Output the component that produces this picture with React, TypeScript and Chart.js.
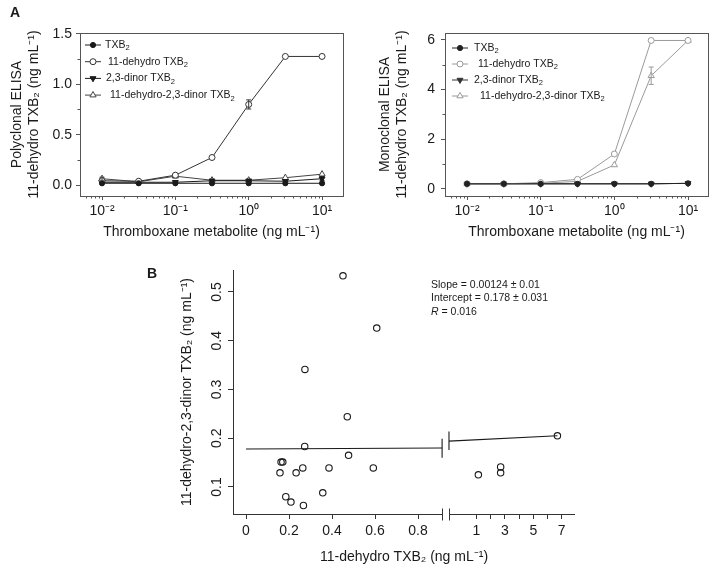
import React, { useEffect, useRef } from 'react';
import { Chart, registerables } from 'chart.js';

Chart.register(...registerables);

const FONT = "'Liberation Sans', Arial, Helvetica, sans-serif";
const INK = '#1a1a1a';

// ---------------- Panel A data ----------------
const concentrations = [0.01, 0.0316, 0.1, 0.316, 1, 3.16, 10];
const seriesNames = ['TXB₂', '11-dehydro TXB₂', '2,3-dinor TXB₂', '11-dehydro-2,3-dinor TXB₂'];

const polyTXB2 = [0.02, 0.02, 0.02, 0.02, 0.02, 0.02, 0.02];
const polyDehydro = [0.045, 0.04, 0.1, 0.275, 0.8, 1.275, 1.275];
const polyDinor = [0.03, 0.03, 0.03, 0.045, 0.045, 0.04, 0.065];
const polyDehydroDinor = [0.065, 0.035, 0.09, 0.05, 0.05, 0.075, 0.11];
const polyTXB2Err = [0, 0, 0, 0, 0, 0, 0];
const polyDehydroErr = [0, 0, 0, 0, 0.045, 0, 0];
const polyDinorErr = [0, 0, 0, 0, 0, 0, 0.02];
const polyDehydroDinorErr = [0.015, 0, 0, 0, 0, 0, 0];

const monoTXB2 = [0.2, 0.2, 0.2, 0.2, 0.2, 0.2, 0.22];
const monoDehydro = [0.2, 0.2, 0.25, 0.38, 1.4, 5.97, 5.97];
const monoDinor = [0.2, 0.2, 0.2, 0.2, 0.2, 0.2, 0.22];
const monoDehydroDinor = [0.2, 0.2, 0.22, 0.3, 0.96, 4.55, 5.97];
const monoTXB2Err = [0, 0, 0, 0, 0, 0, 0];
const monoDehydroErr = [0, 0, 0, 0, 0, 0, 0];
const monoDinorErr = [0, 0, 0, 0, 0, 0, 0];
const monoDehydroDinorErr = [0, 0, 0, 0, 0, 0.35, 0];

const logTicks = [0.01, 0.1, 1, 10];
const logTickLabels = ['10⁻²', '10⁻¹', '10⁰', '10¹'];
const polyYTicks = [0, 0.5, 1, 1.5];
const polyYTickLabels = ['0.0', '0.5', '1.0', '1.5'];
const polyYMinor = [0.25, 0.75, 1.25];
const monoYTicks = [0, 2, 4, 6];
const monoYTickLabels = ['0', '2', '4', '6'];
const monoYMinor = [1, 3, 5];

// ---------------- Panel B data ----------------
const bLeftX = [0.158, 0.163, 0.171, 0.185, 0.209, 0.233, 0.264, 0.267, 0.274, 0.273, 0.357, 0.386, 0.471, 0.477, 0.592, 0.608, 0.451];
const bLeftY = [0.129, 0.151, 0.151, 0.080, 0.069, 0.129, 0.139, 0.062, 0.341, 0.183, 0.088, 0.139, 0.244, 0.165, 0.139, 0.426, 0.533];
const bRightX = [1.13, 2.7, 2.7, 6.7];
const bRightY = [0.125, 0.141, 0.129, 0.205];
const bFitLeftX = [0, 0.912];
const bFitLeftY = [0.178, 0.18];
const bFitRightX = [-0.94, 6.7];
const bFitRightY = [0.194, 0.205];
const bCapLeftY = [0.16, 0.199];
const bCapRightY = [0.176, 0.214];
const bXTicksLeft = [0, 0.2, 0.4, 0.6, 0.8];
const bXTickLabelsLeft = ['0', '0.2', '0.4', '0.6', '0.8'];
const bXTicksRight = [1, 2, 3, 4, 5, 6, 7];
const bXTickLabelsRight = ['1', '', '3', '', '5', '', '7'];
const bYTicks = [0.1, 0.2, 0.3, 0.4, 0.5];
const bYTickLabels = ['0.1', '0.2', '0.3', '0.4', '0.5'];
const bStats = ['Slope = 0.00124 ± 0.01', 'Intercept = 0.178 ± 0.031', 'R = 0.016'];

// broken x axis geometry (display units)
const LEFT_MIN = -0.0605;
const LEFT_MAX = 0.912;
const GAP = 0.032;
const RIGHT_MIN = -0.94;
const RIGHT_MAX = 7.94;
const RIGHT_SCALE = 0.066;
const mapR = (w: number) => LEFT_MAX + GAP + (w - RIGHT_MIN) * RIGHT_SCALE;

// ---------------- helpers ----------------
const MARKERS = [
  { style: 'circle', r: 2.6, rot: 0, filled: true },
  { style: 'circle', r: 3, rot: 0, filled: false },
  { style: 'triangle', r: 3.4, rot: 180, filled: true },
  { style: 'triangle', r: 3.6, rot: 0, filled: false },
];

function drawMarker(ctx: CanvasRenderingContext2D, m: any, x: number, y: number, color: string) {
  ctx.save();
  ctx.beginPath();
  if (m.style === 'circle') {
    ctx.arc(x, y, m.r, 0, Math.PI * 2);
  } else {
    let rad = (m.rot * Math.PI) / 180;
    for (let k = 0; k < 3; k++) {
      const px = x + Math.sin(rad) * m.r;
      const py = y - Math.cos(rad) * m.r;
      if (k === 0) ctx.moveTo(px, py);
      else ctx.lineTo(px, py);
      rad += (2 * Math.PI) / 3;
    }
    ctx.closePath();
  }
  ctx.fillStyle = m.filled ? color : '#fff';
  ctx.fill();
  ctx.strokeStyle = color;
  ctx.lineWidth = 1;
  ctx.stroke();
  ctx.restore();
}

function fillRich(ctx: CanvasRenderingContext2D, text: string, x: number, y: number, size: number, color: string) {
  ctx.save();
  ctx.fillStyle = color;
  ctx.textAlign = 'left';
  ctx.textBaseline = 'middle';
  let cx = x;
  for (const part of text.split(/(₂)/)) {
    if (!part) continue;
    if (part === '₂') {
      ctx.font = `${size * 0.72}px ${FONT}`;
      ctx.fillText('2', cx, y + size * 0.32);
      cx += ctx.measureText('2').width;
    } else {
      ctx.font = `${size}px ${FONT}`;
      ctx.fillText(part, cx, y);
      cx += ctx.measureText(part).width;
    }
  }
  ctx.restore();
}

function line(ctx: CanvasRenderingContext2D, x0: number, y0: number, x1: number, y1: number) {
  ctx.beginPath();
  ctx.moveTo(x0, y0);
  ctx.lineTo(x1, y1);
  ctx.stroke();
}

function logMinor(min: number, max: number) {
  const out: number[] = [];
  for (let k = Math.floor(Math.log10(min)); k <= Math.floor(Math.log10(max)); k++) {
    for (let m = 2; m <= 9; m++) {
      const v = m * Math.pow(10, k);
      if (v >= min && v <= max) out.push(v);
    }
  }
  return out;
}

// ---------------- Panel A config ----------------
function doseConfig(o: any) {
  const datasets = o.series.map((vals: number[], i: number) => {
    const m = MARKERS[i];
    const color = o.colors[i];
    return {
      label: seriesNames[i],
      data: concentrations.map((x, j) => ({ x, y: vals[j] })),
      errorBars: o.errors[i],
      showLine: true,
      borderColor: color,
      borderWidth: 1,
      pointStyle: m.style,
      pointRadius: m.r,
      pointHoverRadius: m.r,
      pointRotation: m.rot,
      pointBorderColor: color,
      pointBackgroundColor: m.filled ? color : '#fff',
      pointBorderWidth: 1,
    };
  });
  const axisColor = '#555';
  const decor = {
    id: 'doseDecor',
    afterDatasetsDraw(chart: any) {
      const ctx = chart.ctx;
      const xs = chart.scales.x;
      const ys = chart.scales.y;
      chart.data.datasets.forEach((ds: any) => {
        ctx.save();
        ctx.strokeStyle = ds.borderColor;
        ctx.lineWidth = 1;
        ds.data.forEach((p: any, j: number) => {
          const e = ds.errorBars[j];
          if (!e) return;
          const px = xs.getPixelForValue(p.x);
          const y0 = ys.getPixelForValue(p.y - e);
          const y1 = ys.getPixelForValue(p.y + e);
          line(ctx, px, y0, px, y1);
          line(ctx, px - 2.5, y0, px + 2.5, y0);
          line(ctx, px - 2.5, y1, px + 2.5, y1);
        });
        ctx.restore();
      });
    },
    afterDraw(chart: any) {
      const ctx = chart.ctx;
      const a = chart.chartArea;
      const xs = chart.scales.x;
      const ys = chart.scales.y;
      ctx.save();
      ctx.strokeStyle = axisColor;
      ctx.lineWidth = 1;
      ctx.strokeRect(Math.round(a.left) + 0.5, Math.round(a.top) + 0.5, Math.round(a.right - a.left), Math.round(a.bottom - a.top));
      // minor ticks
      logMinor(o.xMin, o.xMax).forEach((v) => {
        const px = Math.round(xs.getPixelForValue(v)) + 0.5;
        line(ctx, px, a.bottom, px, a.bottom + 2.5);
      });
      o.yMinor.forEach((v: number) => {
        const py = Math.round(ys.getPixelForValue(v)) + 0.5;
        line(ctx, a.left - 2.5, py, a.left, py);
      });
      // legend
      const L = o.legend;
      seriesNames.forEach((name, i) => {
        const y = a.top + L.rowY0 + i * L.rowDy;
        ctx.strokeStyle = o.colors[i];
        ctx.lineWidth = 1;
        line(ctx, a.left + L.lineX0, y, a.left + L.lineX1, y);
        drawMarker(ctx, MARKERS[i], a.left + (L.lineX0 + L.lineX1) / 2, y, o.colors[i]);
        fillRich(ctx, name, a.left + L.textX + L.indent[i], y, 10.5, INK);
      });
      if (o.panelLabel) {
        ctx.fillStyle = INK;
        ctx.font = `bold 14px ${FONT}`;
        ctx.textAlign = 'center';
        ctx.textBaseline = 'middle';
        ctx.fillText(o.panelLabel, 15, 13);
      }
      ctx.restore();
    },
  };
  return {
    type: 'scatter',
    data: { datasets },
    options: {
      animation: false,
      responsive: false,
      events: [],
      layout: { padding: { top: o.padTop, right: o.padRight, left: 0, bottom: 0 } },
      plugins: { legend: { display: false }, tooltip: { enabled: false } },
      scales: {
        x: {
          type: 'logarithmic',
          min: o.xMin,
          max: o.xMax,
          afterBuildTicks: (s: any) => {
            s.ticks = logTicks.map((v) => ({ value: v }));
          },
          afterFit: (s: any) => {
            s.height = 54;
          },
          ticks: {
            callback: (_v: any, i: number) => logTickLabels[i],
            font: { family: FONT, size: 14 },
            color: INK,
            padding: 3,
            autoSkip: false,
            maxRotation: 0,
          },
          grid: { drawOnChartArea: false, tickLength: 4, color: axisColor, tickColor: axisColor },
          border: { display: true, color: axisColor },
          title: {
            display: true,
            text: 'Thromboxane metabolite (ng mL⁻¹)',
            font: { family: FONT, size: 14 },
            color: INK,
            padding: { top: 0, bottom: 9.6 },
          },
        },
        y: {
          type: 'linear',
          min: o.yMin,
          max: o.yMax,
          afterBuildTicks: (s: any) => {
            s.ticks = o.yTicks.map((v: number) => ({ value: v }));
          },
          afterFit: (s: any) => {
            s.width = o.yAxisWidth;
          },
          ticks: {
            callback: (_v: any, i: number) => o.yTickLabels[i],
            font: { family: FONT, size: 14 },
            color: INK,
            padding: o.yTickPad,
            autoSkip: false,
          },
          grid: { drawOnChartArea: false, tickLength: 4, color: axisColor, tickColor: axisColor },
          border: { display: true, color: axisColor },
          title: {
            display: true,
            text: o.yTitle,
            font: { family: FONT, size: 14 },
            color: INK,
            padding: { top: o.yTitlePad, bottom: 0 },
          },
        },
      },
    },
    plugins: [decor],
  };
}

// ---------------- Panel B config ----------------
function scatterConfig() {
  const axisColor = '#333';
  const leftPts = bLeftX.map((x, i) => ({ x, y: bLeftY[i] }));
  const rightPts = bRightX.map((x, i) => ({ x: mapR(x), y: bRightY[i] }));
  const fitL = bFitLeftX.map((x, i) => ({ x, y: bFitLeftY[i] }));
  const fitR = bFitRightX.map((x, i) => ({ x: mapR(x), y: bFitRightY[i] }));
  const tickVals = [...bXTicksLeft, ...bXTicksRight.map(mapR)];
  const tickLabels = [...bXTickLabelsLeft, ...bXTickLabelsRight];
  const pointStyle = {
    pointStyle: 'circle',
    pointRadius: 3.2,
    pointHoverRadius: 3.2,
    pointBorderColor: INK,
    pointBackgroundColor: 'rgba(255,255,255,0)',
    pointBorderWidth: 1.1,
    showLine: false,
  };
  const fitStyle = { showLine: true, borderColor: INK, borderWidth: 1.1, pointRadius: 0, pointHoverRadius: 0 };
  const decor = {
    id: 'bDecor',
    afterDatasetsDraw(chart: any) {
      const ctx = chart.ctx;
      const xs = chart.scales.x;
      const ys = chart.scales.y;
      ctx.save();
      ctx.strokeStyle = INK;
      ctx.lineWidth = 1.1;
      const xl = xs.getPixelForValue(LEFT_MAX);
      const xr = xs.getPixelForValue(mapR(RIGHT_MIN));
      line(ctx, xl, ys.getPixelForValue(bCapLeftY[0]), xl, ys.getPixelForValue(bCapLeftY[1]));
      line(ctx, xr, ys.getPixelForValue(bCapRightY[0]), xr, ys.getPixelForValue(bCapRightY[1]));
      ctx.restore();
    },
    afterDraw(chart: any) {
      const ctx = chart.ctx;
      const a = chart.chartArea;
      const xs = chart.scales.x;
      const ys = chart.scales.y;
      ctx.save();
      ctx.strokeStyle = axisColor;
      ctx.lineWidth = 1;
      const y = Math.round(a.bottom) + 0.5;
      const xl = Math.round(xs.getPixelForValue(LEFT_MAX)) + 0.5;
      const xr = Math.round(xs.getPixelForValue(mapR(RIGHT_MIN))) + 0.5;
      line(ctx, a.left, y, xl, y);
      line(ctx, xr, y, a.right, y);
      line(ctx, xl, y - 6, xl, y + 6);
      line(ctx, xr, y - 6, xr, y + 6);
      // rotated y tick labels
      ctx.fillStyle = INK;
      ctx.font = `14px ${FONT}`;
      ctx.textAlign = 'center';
      ctx.textBaseline = 'middle';
      bYTicks.forEach((v, i) => {
        ctx.save();
        ctx.translate(a.left - 16, ys.getPixelForValue(v));
        ctx.rotate(-Math.PI / 2);
        ctx.fillText(bYTickLabels[i], 0, 0);
        ctx.restore();
      });
      // stats
      ctx.textAlign = 'left';
      bStats.forEach((s, i) => {
        const sx = a.left + 198;
        const sy = a.top + 15 + i * 13.5;
        if (s.startsWith('R ')) {
          ctx.font = `italic 10.5px ${FONT}`;
          ctx.fillText('R', sx, sy);
          const w = ctx.measureText('R').width;
          ctx.font = `10.5px ${FONT}`;
          ctx.fillText(s.slice(1), sx + w, sy);
        } else {
          ctx.font = `10.5px ${FONT}`;
          ctx.fillText(s, sx, sy);
        }
      });
      // panel label
      ctx.font = `bold 14px ${FONT}`;
      ctx.textAlign = 'center';
      ctx.fillText('B', 12, 19);
      ctx.restore();
    },
  };
  return {
    type: 'scatter',
    data: {
      datasets: [
        { label: 'samples', data: leftPts, ...pointStyle },
        { label: 'samples (high)', data: rightPts, ...pointStyle },
        { label: 'fit', data: fitL, ...fitStyle },
        { label: 'fit (high)', data: fitR, ...fitStyle },
      ],
    },
    options: {
      animation: false,
      responsive: false,
      events: [],
      layout: { padding: { top: 15, right: 25, left: 0, bottom: 0 } },
      plugins: { legend: { display: false }, tooltip: { enabled: false } },
      scales: {
        x: {
          type: 'linear',
          min: LEFT_MIN,
          max: mapR(RIGHT_MAX),
          afterBuildTicks: (s: any) => {
            s.ticks = tickVals.map((v) => ({ value: v }));
          },
          afterFit: (s: any) => {
            s.height = 57;
          },
          ticks: {
            callback: (_v: any, i: number) => tickLabels[i],
            font: { family: FONT, size: 14 },
            color: INK,
            padding: 3.6,
            autoSkip: false,
            maxRotation: 0,
          },
          grid: { drawOnChartArea: false, tickLength: 5, color: axisColor, tickColor: axisColor },
          border: { display: false },
          title: {
            display: true,
            text: '11-dehydro TXB₂ (ng mL⁻¹)',
            font: { family: FONT, size: 14 },
            color: INK,
            padding: { top: 0, bottom: 5.6 },
          },
        },
        y: {
          type: 'linear',
          min: 0.0446,
          max: 0.545,
          afterBuildTicks: (s: any) => {
            s.ticks = bYTicks.map((v) => ({ value: v }));
          },
          afterFit: (s: any) => {
            s.width = 93;
          },
          ticks: { display: false, autoSkip: false },
          grid: { drawOnChartArea: false, tickLength: 5, color: axisColor, tickColor: axisColor },
          border: { display: true, color: axisColor },
          title: {
            display: true,
            text: '11-dehydro-2,3-dinor TXB₂ (ng mL⁻¹)',
            font: { family: FONT, size: 14 },
            color: INK,
            padding: { top: 38.6, bottom: 0 },
          },
        },
      },
    },
    plugins: [decor],
  };
}

function ChartBox({ left, top, width, height, make }: any) {
  const ref = useRef<HTMLCanvasElement>(null);
  useEffect(() => {
    const chart = new Chart(ref.current as HTMLCanvasElement, make());
    return () => chart.destroy();
  }, []);
  return (
    <canvas
      ref={ref}
      width={width}
      height={height}
      style={{ position: 'absolute', left, top, width, height }}
    />
  );
}

export default function App() {
  const polyConfig = () =>
    doseConfig({
      series: [polyTXB2, polyDehydro, polyDinor, polyDehydroDinor],
      errors: [polyTXB2Err, polyDehydroErr, polyDinorErr, polyDehydroDinorErr],
      colors: ['#1a1a1a', '#333333', '#1a1a1a', '#444444'],
      xMin: 0.00501,
      xMax: 19.3,
      yMin: -0.106,
      yMax: 1.507,
      yTicks: polyYTicks,
      yTickLabels: polyYTickLabels,
      yMinor: polyYMinor,
      yTitle: ['Polyclonal ELISA', '11-dehydro TXB₂ (ng mL⁻¹)'],
      yAxisWidth: 80,
      yTickPad: 4,
      yTitlePad: 8.6,
      padTop: 33,
      padRight: 14,
      legend: { lineX0: 5, lineX1: 21, textX: 25, rowY0: 12, rowDy: 16.7, indent: [0, 3, 1, 5] },
      panelLabel: 'A',
    });
  const monoConfig = () =>
    doseConfig({
      series: [monoTXB2, monoDehydro, monoDinor, monoDehydroDinor],
      errors: [monoTXB2Err, monoDehydroErr, monoDinorErr, monoDehydroDinorErr],
      colors: ['#222222', '#9a9a9a', '#333333', '#9a9a9a'],
      xMin: 0.005023,
      xMax: 18.66,
      yMin: -0.29,
      yMax: 6.27,
      yTicks: monoYTicks,
      yTickLabels: monoYTickLabels,
      yMinor: monoYMinor,
      yTitle: ['Monoclonal ELISA', '11-dehydro TXB₂ (ng mL⁻¹)'],
      yAxisWidth: 88,
      yTickPad: 6,
      yTitlePad: 19.6,
      padTop: 33,
      padRight: 6,
      legend: { lineX0: 7, lineX1: 23, textX: 29, rowY0: 15, rowDy: 16, indent: [0, 4, 0, 6] },
      panelLabel: '',
    });
  return (
    <div style={{ position: 'absolute', left: 0, top: 0, width: 714, height: 571, background: '#fff' }}>
      <ChartBox left={0} top={0} width={357} height={250} make={polyConfig} />
      <ChartBox left={357} top={0} width={357} height={250} make={monoConfig} />
      <ChartBox left={140} top={255} width={460} height={316} make={scatterConfig} />
    </div>
  );
}
